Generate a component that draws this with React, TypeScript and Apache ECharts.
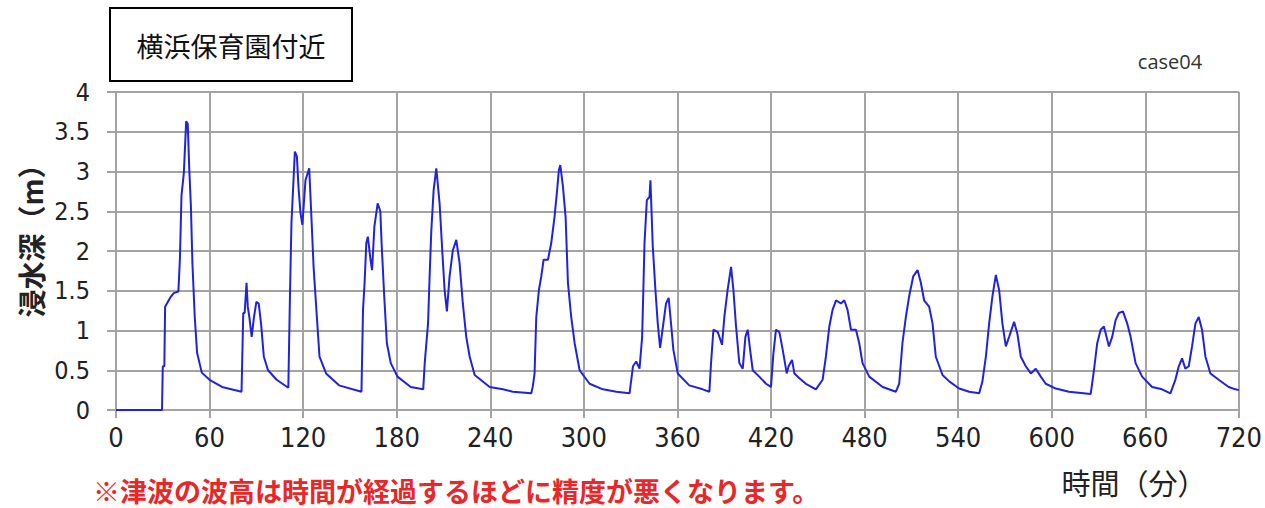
import React, { useEffect, useRef } from "react";
import * as echarts from "echarts";

const TITLE = "横浜保育園付近";
const CASE_LABEL = "case04";
const Y_NAME = "浸水深（m）";
const X_NAME = "時間（分）";
const NOTE = "※津波の波高は時間が経過するほどに精度が悪くなります。";

const X_MIN = 0;
const X_MAX = 720;
const X_STEP = 60;
const Y_MIN = 0;
const Y_MAX = 4;
const Y_STEP = 0.5;

// time (minutes)
const TIMES = [
  0, 29.5, 30, 31, 31.5, 35, 37, 40, 41, 42, 43.5, 45, 46, 47, 48, 49, 50.5, 52, 55, 60, 68, 80.5,
  81.6, 82.5, 83.7, 84.5, 85.5, 87, 88.5, 90, 91.5, 93, 94.8, 97.5, 103, 110.5,
  111.5, 112.5, 114.7, 116, 117, 118.3, 119.5, 121.5, 123.9, 125.3, 126.7, 128.8, 130.5, 134.7, 143, 157.4,
  158.4, 159.4, 160.5, 161.5, 163.2, 164.2, 165.7, 167.8, 169.5, 170.3, 172, 173.7, 176.2, 180.5, 189, 197,
  198, 200.1, 201.1, 202.2, 203.7, 205.4, 207.5, 209.2, 210.7, 212.2, 213.9, 216, 218.2, 220.3, 222.4, 224.6, 226.8, 230, 239.6, 248.1, 254.5, 266.3,
  267.3, 268.4, 269.5, 271.2, 272.7, 274.2, 277, 279.1, 281.2, 282.7, 284, 284.9, 286.6, 288.3, 289.8, 291.9, 294.1, 297.3, 303.7, 312.2, 320.8, 329.3,
  331.5, 333.6, 335.7, 337.4, 338.9, 340.4, 342.1, 342.7, 344.2, 345.9, 347.4, 348.9, 351, 352.7, 354.4, 355.9, 357.4, 360.2, 367.6, 376.2, 380.5,
  381.6, 383.1, 385.9, 388.6, 390.1, 392.2, 394.4, 395.9, 397.6, 399.7, 401.9, 403.6, 405.1, 406.6, 408.3, 412.5, 416.8, 420,
  421.5, 423.2, 425.4, 427.5, 430.1, 431.3, 433.5, 435, 438.2, 442.4, 448.8,
  453.1, 455.2, 457.4, 459.5, 461.7, 464.9, 467, 469.1, 471.3, 474.5, 476.6, 478.7, 483, 491.6, 500.1,
  502.2, 504.3, 506.5, 508.6, 511.2, 514, 516.1, 518.2, 521.4, 523.6, 525.7, 530, 534.3, 540.7, 547.1, 553.5,
  555.6, 557.8, 559.9, 562, 564.2, 566.3, 568.4, 570.6, 572.7, 575.9, 578, 580.2, 583.4, 586.6, 589.8, 593, 596.2, 602.6, 611.1, 625,
  627.1, 629.2, 631.4, 633.5, 636.7, 638.8, 641, 643.1, 645.7, 648.4, 650.6, 653.8, 658, 664.4, 670.8, 676.1,
  679.3, 681.5, 683.6, 685.7, 687.9, 690, 692.2, 694.3, 696.4, 698.6, 701.8, 707.1, 713.5, 717.8, 720,
];

// inundation depth (m)
const DEPTHS = [
  0, 0, 0.55, 0.55, 1.3, 1.42, 1.47, 1.49, 1.91, 2.7, 2.98, 3.63, 3.6, 3.02, 2.58, 1.85, 1.17, 0.72, 0.47, 0.38, 0.29, 0.23,
  1.22, 1.22, 1.6, 1.3, 1.17, 0.92, 1.17, 1.36, 1.34, 1.09, 0.67, 0.5, 0.38, 0.28,
  1.38, 2.35, 3.25, 3.19, 2.81, 2.48, 2.33, 2.89, 3.04, 2.43, 1.8, 1.17, 0.67, 0.46, 0.31, 0.23,
  1.26, 1.6, 2.1, 2.18, 1.89, 1.76, 2.31, 2.6, 2.5, 2.1, 1.43, 0.84, 0.59, 0.42, 0.29, 0.26,
  0.6, 1.09, 1.68, 2.26, 2.77, 3.04, 2.6, 2.01, 1.51, 1.24, 1.68, 2.01, 2.14, 1.85, 1.34, 0.92, 0.67, 0.44, 0.29, 0.26, 0.23, 0.21,
  0.3, 0.46, 1.17, 1.51, 1.68, 1.89, 1.89, 2.1, 2.43, 2.73, 3.02, 3.08, 2.81, 2.43, 1.6, 1.17, 0.84, 0.5, 0.33, 0.26, 0.23, 0.21,
  0.55, 0.61, 0.52, 0.92, 2.1, 2.64, 2.68, 2.89, 2.06, 1.51, 1.09, 0.78, 1.09, 1.34, 1.41, 1.09, 0.76, 0.46, 0.31, 0.26, 0.23,
  0.6, 1.01, 0.98, 0.82, 1.17, 1.51, 1.8, 1.51, 1.05, 0.59, 0.52, 0.92, 1.01, 0.76, 0.5, 0.42, 0.33, 0.29,
  0.7, 1.01, 0.98, 0.76, 0.46, 0.55, 0.63, 0.46, 0.4, 0.33, 0.26,
  0.38, 0.67, 1.05, 1.26, 1.38, 1.34, 1.38, 1.26, 1.01, 1.01, 0.84, 0.59, 0.42, 0.29, 0.23,
  0.33, 0.84, 1.17, 1.43, 1.68, 1.76, 1.6, 1.38, 1.3, 1.09, 0.67, 0.44, 0.36, 0.27, 0.23, 0.21,
  0.36, 0.67, 1.09, 1.43, 1.7, 1.51, 1.09, 0.8, 0.92, 1.11, 0.96, 0.67, 0.55, 0.46, 0.52, 0.42, 0.33, 0.27, 0.23, 0.2,
  0.5, 0.84, 1.01, 1.05, 0.8, 0.92, 1.13, 1.22, 1.24, 1.09, 0.92, 0.59, 0.42, 0.29, 0.26, 0.21,
  0.38, 0.55, 0.65, 0.52, 0.55, 0.8, 1.09, 1.17, 1.01, 0.67, 0.46, 0.38, 0.29, 0.26, 0.25,
];

const GRID_COLOR = "#a3a3a3";
const LINE_COLOR = "#2222dd";
const NUM_FONT = "'Liberation Sans Narrow', 'DejaVu Sans Condensed', 'Liberation Sans', sans-serif";
const CJK_FONT = "'Noto Sans CJK JP', 'Noto Sans', sans-serif";

export default function App() {
  const ref = useRef<HTMLDivElement>(null);

  useEffect(() => {
    if (!ref.current) return;
    const chart = echarts.init(ref.current, undefined, { renderer: "svg" });
    const data = TIMES.map((t, i) => [t, DEPTHS[i]]);

    chart.setOption({
      animation: false,
      backgroundColor: "#ffffff",
      grid: { left: 116, right: 25, top: 92, bottom: 98 },
      xAxis: {
        type: "value",
        min: X_MIN,
        max: X_MAX,
        interval: X_STEP,
        axisLine: { show: true, lineStyle: { color: GRID_COLOR, width: 2 } },
        axisTick: { show: true, length: 8, lineStyle: { color: GRID_COLOR, width: 2 } },
        splitLine: { show: true, lineStyle: { color: GRID_COLOR, width: 2 } },
        axisLabel: {
          margin: 14,
          fontSize: 27,
          color: "#222",
          fontFamily: NUM_FONT,
        },
      },
      yAxis: {
        type: "value",
        min: Y_MIN,
        max: Y_MAX,
        interval: Y_STEP,
        axisLine: { show: true, lineStyle: { color: GRID_COLOR, width: 2 } },
        axisTick: { show: true, length: 9, lineStyle: { color: GRID_COLOR, width: 2 } },
        splitLine: { show: true, lineStyle: { color: GRID_COLOR, width: 2 } },
        axisLabel: {
          margin: 26,
          fontSize: 25,
          color: "#222",
          fontFamily: NUM_FONT,
        },
      },
      series: [
        {
          type: "line",
          data,
          showSymbol: false,
          symbol: "none",
          lineStyle: { color: LINE_COLOR, width: 2 },
          z: 5,
        },
      ],
      graphic: [
        {
          type: "rect",
          shape: { x: 110, y: 8, width: 242, height: 73 },
          style: { fill: "#ffffff", stroke: "#000000", lineWidth: 2 },
        },
        {
          type: "text",
          x: 231,
          y: 45,
          style: {
            text: TITLE,
            fontSize: 27,
            fontFamily: CJK_FONT,
            fill: "#111",
            align: "center",
            verticalAlign: "middle",
          },
        },
        {
          type: "text",
          x: 1170,
          y: 61,
          style: {
            text: CASE_LABEL,
            fontSize: 20,
            fontFamily: "'Open Sans', sans-serif",
            fill: "#333",
            align: "center",
            verticalAlign: "middle",
          },
        },
        {
          type: "text",
          x: 31,
          y: 234,
          rotation: Math.PI / 2,
          style: {
            text: Y_NAME,
            fontSize: 28,
            fontWeight: "bold",
            fontFamily: CJK_FONT,
            fill: "#222",
            align: "center",
            verticalAlign: "middle",
          },
        },
        {
          type: "text",
          x: 1134,
          y: 482,
          style: {
            text: X_NAME,
            fontSize: 29,
            fontFamily: CJK_FONT,
            fill: "#222",
            align: "center",
            verticalAlign: "middle",
          },
        },
        {
          type: "text",
          x: 93,
          y: 490,
          style: {
            text: NOTE,
            fontSize: 27,
            lineHeight: 28,
            fontWeight: "bold",
            fontFamily: CJK_FONT,
            fill: "#e82828",
            align: "left",
            verticalAlign: "middle",
          },
        },
      ],
    });

    return () => {
      chart.dispose();
    };
  }, []);

  return (
    <div
      ref={ref}
      style={{ position: "fixed", left: 0, top: 0, width: 1265, height: 508 }}
    />
  );
}
